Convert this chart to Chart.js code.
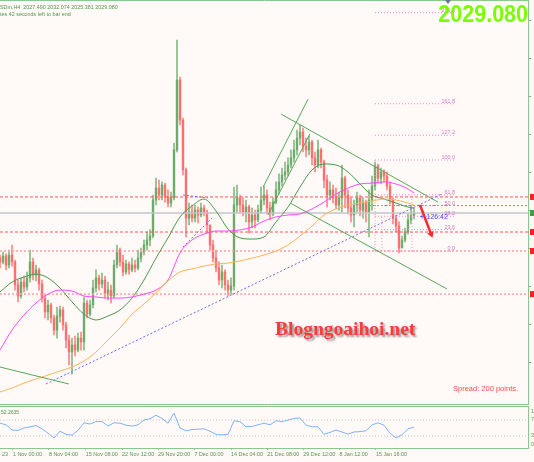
<!DOCTYPE html>
<html>
<head>
<meta charset="utf-8">
<script src="https://cdn.jsdelivr.net/npm/chart.js@4.4.1/dist/chart.umd.min.js"></script>
<style>
  html, body { margin: 0; padding: 0; background: #fff9f8; }
  #wrap { position: relative; width: 534px; height: 462px; overflow: hidden; }
  canvas { position: absolute; left: 0; }
  #main { top: 0; }
  #rsi { top: 406px; }
</style>
</head>
<body>
<div id="wrap">
  <canvas id="main" width="534" height="406"></canvas>
  <canvas id="rsi" width="534" height="56"></canvas>
</div>
<script>
// XAUUSD H4 candles, one entry per plotted bar (open = previous close)
const firstOpen = 2001.0;
const closes = [
  1998.5, 2002.2, 1996.6, 2002.8, 1998.5, 1984.1, 1977.2, 1985.9, 1982.8, 1988.5,
  1998.5, 1990.3, 1993.5, 1984.7, 1975.9, 1967.2, 1971.6, 1963.5, 1955.9, 1964.7,
  1968.5, 1959.1, 1949.7, 1942.2, 1946.6, 1943.4, 1950.9, 1948.5, 1972.8, 1965.9,
  1971.6, 1982.2, 1988.5, 1984.7, 1987.2, 1978.4, 1980.9, 1977.2, 1996.6, 2005.9,
  1998.5, 1992.2, 1997.2, 1993.5, 1996.6, 1994.7, 2000.9, 2004.7, 2009.1, 2012.2,
  2014.7, 2037.2, 2044.7, 2040.3, 2046.6, 2039.1, 2035.3, 2038.5, 2068.5, 2112.2,
  2087.2, 2056.0, 2025.9, 2029.7, 2025.9, 2030.9, 2027.8, 2032.2, 2029.7, 2021.6,
  2009.1, 2000.9, 1994.7, 1987.2, 1992.2, 1984.1, 1980.9, 1983.5, 2034.1, 2038.5,
  2034.1, 2029.7, 2032.8, 2023.5, 2027.8, 2024.7, 2030.9, 2037.2, 2040.3, 2032.2,
  2028.5, 2035.9, 2043.5, 2048.5, 2052.8, 2054.7, 2059.1, 2063.5, 2068.5, 2075.9,
  2079.7, 2070.9, 2068.5, 2073.4, 2063.5, 2059.1, 2068.5, 2060.9, 2049.7, 2040.3,
  2043.5, 2038.5, 2034.1, 2038.5, 2050.9, 2040.3, 2032.2, 2027.8, 2034.1, 2038.5,
  2030.9, 2035.9, 2029.7, 2037.2, 2045.9, 2058.5, 2050.9, 2054.7, 2052.2, 2045.9,
  2037.2, 2025.9, 2020.9, 2007.2, 2012.2, 2017.2, 2024.7, 2027.5, 2029.08
];
const highs = [
  2002.8, 2004.7, 2003.5, 2005.9, 2009.1, 1999.7, 1987.2, 1988.5, 1989.7, 1992.2,
  2005.9, 2000.9, 1996.6, 1994.7, 1987.2, 1977.8, 1974.7, 1972.8, 1965.3, 1970.3,
  1970.9, 1970.3, 1960.9, 1952.8, 1950.9, 1952.2, 1954.1, 1954.7, 1976.6, 1974.7,
  1974.7, 1987.2, 1993.5, 1990.3, 1991.6, 1989.7, 1985.9, 1984.1, 1999.7, 2009.1,
  2007.2, 2002.8, 1999.7, 1998.5, 2000.9, 1999.7, 2005.9, 2007.2, 2012.2, 2017.2,
  2018.5, 2040.3, 2050.9, 2049.7, 2048.5, 2047.8, 2043.5, 2042.2, 2072.8, 2137.2,
  2114.1, 2088.4, 2057.2, 2035.3, 2034.1, 2034.1, 2032.8, 2035.3, 2034.1, 2030.9,
  2021.6, 2012.2, 2005.9, 1998.5, 1996.6, 1993.5, 1987.2, 1988.5, 2045.3, 2046.6,
  2040.3, 2038.5, 2037.2, 2034.1, 2032.2, 2030.9, 2034.1, 2045.3, 2045.9, 2043.5,
  2035.9, 2038.5, 2048.5, 2053.5, 2057.2, 2060.9, 2063.5, 2068.5, 2074.7, 2080.9,
  2084.1, 2082.2, 2075.9, 2077.2, 2074.7, 2067.2, 2074.7, 2069.7, 2062.2, 2052.8,
  2048.5, 2046.6, 2044.7, 2042.2, 2059.1, 2052.2, 2043.5, 2038.5, 2037.2, 2042.2,
  2040.3, 2038.5, 2037.2, 2043.5, 2052.2, 2060.9, 2059.7, 2057.2, 2056.0, 2054.7,
  2048.5, 2038.5, 2027.8, 2023.5, 2014.7, 2019.7, 2028.5, 2033.5, 2032.074
];
const lows = [
  1994.7, 1997.2, 1993.5, 1994.7, 1995.9, 1980.9, 1973.5, 1975.9, 1979.7, 1980.9,
  1985.9, 1987.2, 1986.6, 1980.9, 1973.5, 1963.5, 1962.2, 1960.3, 1952.8, 1950.9,
  1960.9, 1955.9, 1944.7, 1934.1, 1928.4, 1939.7, 1942.2, 1943.4, 1943.4, 1963.5,
  1964.7, 1969.7, 1979.7, 1980.9, 1982.2, 1975.9, 1974.7, 1972.8, 1975.9, 1994.7,
  1995.9, 1989.7, 1990.9, 1990.9, 1992.2, 1992.2, 1993.5, 1998.5, 2002.8, 2005.9,
  2008.5, 2013.5, 2034.1, 2037.2, 2037.2, 2035.9, 2032.8, 2032.8, 2037.2, 2067.2,
  2084.1, 2052.8, 2014.1, 2021.6, 2023.5, 2023.5, 2022.8, 2026.6, 2027.2, 2016.6,
  2005.9, 1998.5, 1992.2, 1984.1, 1982.2, 1980.9, 1977.2, 1978.4, 1980.9, 2029.7,
  2029.1, 2027.2, 2023.5, 2016.6, 2019.7, 2019.7, 2023.5, 2029.1, 2034.1, 2028.5,
  2024.7, 2027.2, 2034.7, 2041.0, 2045.9, 2049.7, 2052.2, 2057.2, 2060.9, 2065.3,
  2071.6, 2067.2, 2064.1, 2065.3, 2059.1, 2054.7, 2057.2, 2057.2, 2044.7, 2032.8,
  2037.2, 2035.3, 2031.6, 2030.9, 2029.7, 2032.2, 2028.5, 2023.5, 2020.3, 2029.7,
  2027.2, 2025.9, 2023.5, 2014.1, 2030.9, 2043.5, 2047.8, 2047.2, 2048.5, 2043.5,
  2034.7, 2022.2, 2017.2, 2004.1, 2007.2, 2010.9, 2015.9, 2022.2, 2025.381
];

const maBars = [0, 4, 8, 12, 16, 20, 24, 28, 32, 36, 40, 44, 48, 52, 56, 60, 64, 68,
  72, 76, 80, 84, 88, 92, 96, 100, 104, 108, 112, 116, 120, 124, 128, 132, 136, 138];
const maFast = [1979.7, 1985.9, 1989.1, 1990.9, 1988.5, 1982.2, 1973.5, 1965.9, 1962.2,
  1964.7, 1968.5, 1975.9, 1987.2, 2000.9, 2013.5, 2026.6, 2033.5, 2037.8, 2030.3,
  2019.1, 2013.5, 2012.8, 2014.1, 2023.5, 2032.8, 2045.3, 2056.0, 2059.7, 2059.1,
  2054.7, 2047.2, 2040.3, 2037.8, 2035.3, 2032.8, 2032.2];
const maMid = [1943.4, 1955.9, 1965.3, 1972.8, 1978.4, 1980.9, 1980.3, 1977.2, 1976.6,
  1975.9, 1975.9, 1976.6, 1978.4, 1980.9, 1987.2, 2004.1, 2012.2, 2015.9, 2017.8,
  2017.8, 2018.5, 2020.3, 2024.1, 2026.6, 2027.8, 2028.5, 2031.6, 2035.9, 2040.9,
  2044.7, 2047.2, 2047.8, 2048.5, 2047.2, 2044.1, 2041.6];
const maSlow = [1917.2, 1919.7, 1922.8, 1925.3, 1927.8, 1930.3, 1932.8, 1936.6, 1942.2,
  1949.7, 1957.2, 1965.9, 1972.2, 1979.1, 1986.6, 1992.2, 1994.1, 1995.9, 1997.2,
  1997.8, 1999.1, 2000.9, 2002.8, 2005.3, 2009.1, 2014.7, 2020.9, 2027.8, 2031.6,
  2034.1, 2035.3, 2036.6, 2037.8, 2037.2, 2035.3, 2034.1];

// RSI(14), one reading every second bar
const rsiStep = 2;
const rsiValues = [
  62, 58, 45, 44, 50, 53, 56, 48, 37, 25,
  42, 34, 32, 44, 63, 60, 66, 66, 55, 63,
  62, 57, 55, 58, 70, 73, 82, 74, 62, 87,
  50, 43, 46, 47, 48, 42, 34, 33, 34, 68,
  66, 53, 54, 58, 62, 58, 68, 66, 70, 74,
  75, 57, 53, 53, 34, 39, 45, 40, 35, 40,
  41, 43, 58, 63, 57, 37, 25, 33, 48, 52.2635
];

// time axis
const timeTickBars = [4.3, 16.3, 28.6, 40.7, 52.7, 64.8, 77.0, 89.1, 101.1, 113.2, 125.3];
const timeLabels = ['1 Nov 00:00', '8 Nov 04:00', '15 Nov 08:00', '22 Nov 12:00', '29 Nov 20:00',
  '7 Dec 00:00', '14 Dec 04:00', '21 Dec 08:00', '29 Dec 12:00', '8 Jan 12:00', '15 Jan 16:00'];

// drawn objects (bar, price)
const resistanceLevels = [2039.1, 2017.2];
const zoneLevels = [2005.3, 1978.4];
const fibLow = 2005.3, fibHigh = 2062.2;
const fibLevels = [261.8, 161.8, 127.2, 100.0, 61.8, 50.0, 38.2, 23.6, 0.0];
const fibStartBar = 125, fibEndBar = 151.7;
const fibVerticals = [[125, 100.0], [127.3, 38.2], [137.3, 61.8]];
const greenTrends = [
  [[0, 1932.8], [23, 1922.2]],
  [[87.7, 2045.3], [102.7, 2100.3]],
  [[89.3, 2027.8], [103.3, 2078.5]],
  [[93.7, 2090.9], [146, 2035.9]],
  [[96.7, 2035.3], [149, 1981.6]]
];
const blueTrends = [
  [[15.3, 1922.2], [147.3, 2041.0]],
  [[61, 2040.3], [69.3, 2038.5]],
  [[61, 2007.8], [70.7, 2025.9]]
];
const arrowPath = [[140, 2034.1], [143.7, 2015.9]];

const BG = '#fff9f8';
const FONT = '"Liberation Sans", Arial, sans-serif';
const X_MAX = 176;

const opens = [firstOpen].concat(closes.slice(0, -1));
const bid = closes[closes.length - 1];
const fibPrice = l => fibLow + (fibHigh - fibLow) * l / 100;
const candleColor = i => closes[i] >= opens[i] ? 'rgba(88,162,88,0.72)' : 'rgba(255,96,96,0.75)';

function line(pts, color, width, dash, order, extra) {
  return Object.assign({
    type: 'line',
    data: pts.map(p => ({x: p[0], y: p[1]})),
    borderColor: color, borderWidth: width, borderDash: dash,
    pointRadius: 0, tension: 0, order: order
  }, extra || {});
}

const datasets = [];
resistanceLevels.forEach(p => datasets.push(line([[0, p], [X_MAX, p]], '#ff5555', 1, [3, 2], 4)));
zoneLevels.forEach(p => datasets.push(line([[0, p], [X_MAX, p]], '#ffa2a2', 1.5, [2, 2], 4)));
datasets.push(line([[0, bid], [X_MAX, bid]], '#c4c4cc', 1.5, [], 4));
fibLevels.forEach(l => datasets.push(line([[fibStartBar, fibPrice(l)], [fibEndBar, fibPrice(l)]], '#f08ad0', 1, [1, 2], 4)));
datasets.push(line([[123, fibPrice(50)], [X_MAX, fibPrice(50)]], '#ff6262', 1, [2, 2], 4));
fibVerticals.forEach(v => datasets.push(line([[v[0], fibLow], [v[0], fibPrice(v[1])]], '#f59ab0', 1, [1, 2], 4)));

datasets.push({
  type: 'bar', order: 6, grouped: false, barThickness: 1,
  data: closes.map((c, i) => ({x: i, y: [lows[i], highs[i]]})),
  backgroundColor: ctx => candleColor(ctx.dataIndex)
});
datasets.push({
  type: 'bar', order: 5, grouped: false, barThickness: 1.8,
  data: closes.map((c, i) => ({x: i, y: [opens[i], c]})),
  backgroundColor: ctx => candleColor(ctx.dataIndex)
});

const maStyle = {tension: 0.4, cubicInterpolationMode: 'monotone'};
datasets.push(line(maBars.map((b, k) => [b, maSlow[k]]), '#ffb45e', 1, [], 3, maStyle));
datasets.push(line(maBars.map((b, k) => [b, maMid[k]]), '#ff4cff', 1, [], 3, maStyle));
datasets.push(line(maBars.map((b, k) => [b, maFast[k]]), '#4f994f', 1, [], 3, maStyle));

greenTrends.forEach(t => datasets.push(line(t, '#5aa75a', 1, [], 2)));
blueTrends.forEach(t => datasets.push(line(t, '#6c6cff', 1, [2, 2], 2)));
datasets.push(line(arrowPath, '#ff2a2a', 2.5, [], 0, {
  pointRadius: [0, 4], pointStyle: 'triangle', rotation: 159,
  pointBackgroundColor: '#ff2a2a', pointBorderWidth: 0
}));

const mainDecor = {
  id: 'mainDecor',
  beforeDraw(chart) {
    const c = chart.ctx;
    c.save(); c.fillStyle = BG; c.fillRect(0, 0, chart.width, chart.height); c.restore();
  },
  afterDraw(chart) {
    const c = chart.ctx, xs = chart.scales.x, ys = chart.scales.y;
    c.save();
    // panel frame
    c.strokeStyle = '#8cc88c'; c.lineWidth = 1;
    c.beginPath();
    c.moveTo(0, 0.5); c.lineTo(529, 0.5);
    c.moveTo(528.5, 0); c.lineTo(528.5, 405);
    c.moveTo(0, 404.5); c.lineTo(529, 404.5);
    c.stroke();
    // right price scale stub
    c.strokeStyle = '#9a9a9a';
    c.beginPath();
    for (let y = 20; y < 400; y += 38) { c.moveTo(529, y + 0.5); c.lineTo(531, y + 0.5); }
    c.stroke();
    c.fillStyle = '#ff2020';
    resistanceLevels.concat(zoneLevels).forEach(p => c.fillRect(530, ys.getPixelForValue(p) - 3, 8, 6));
    c.fillStyle = '#3f9f3f';
    c.fillRect(530, ys.getPixelForValue(bid) - 3, 8, 6);
    // shift marker
    c.fillStyle = '#66788a';
    c.beginPath(); c.moveTo(445, 0); c.lineTo(451, 0); c.lineTo(448, 4); c.closePath(); c.fill();
    // fibonacci labels
    c.font = '5.4px ' + FONT; c.fillStyle = '#d27cbe'; c.textAlign = 'right'; c.textBaseline = 'alphabetic';
    fibLevels.forEach(l => c.fillText(l.toFixed(1), xs.getPixelForValue(fibEndBar), ys.getPixelForValue(fibPrice(l)) - 1));
    // trendline angle label
    c.strokeStyle = '#6c6cff'; c.lineWidth = 1;
    c.beginPath(); c.moveTo(420, 216.5); c.lineTo(424, 216.5); c.moveTo(422, 214.5); c.lineTo(422, 218.5); c.stroke();
    c.font = '7px ' + FONT; c.fillStyle = '#4a4aff'; c.textAlign = 'left'; c.textBaseline = 'middle';
    c.fillText('126:42', 426.5, 217);
    // header
    c.font = '5.4px ' + FONT; c.fillStyle = '#4c9a4c'; c.textBaseline = 'alphabetic';
    c.fillText('SDm,H4  2027.490 2032.074 2025.381 2029.080', 0, 8.5);
    c.fillText('tes 42 seconds left to bar end', 0, 15.5);
    // big price
    c.save();
    c.translate(528, 21.8); c.scale(1, 1.08);
    c.font = 'bold 21.5px ' + FONT; c.fillStyle = '#7cfc00'; c.textAlign = 'right';
    c.fillText('2029.080', 0, 0);
    c.restore();
    // watermark
    c.save();
    c.font = 'bold 19.5px "Liberation Serif", "Times New Roman", serif';
    c.fillStyle = '#ff3a3a'; c.textAlign = 'left';
    c.shadowColor = 'rgba(70,70,70,0.55)'; c.shadowOffsetX = 2; c.shadowOffsetY = 2; c.shadowBlur = 2;
    c.fillText('Blogngoaihoi.net', 275, 335);
    c.restore();
    // spread
    c.font = '7.5px ' + FONT; c.fillStyle = '#ff4c4c'; c.textAlign = 'left'; c.textBaseline = 'middle';
    c.fillText('Spread: 200 points.', 453, 389);
    c.restore();
  }
};

new Chart(document.getElementById('main'), {
  type: 'bar',
  data: {datasets: datasets},
  options: {
    responsive: false, animation: false, events: [],
    layout: {autoPadding: false, padding: {top: 0, right: 6, bottom: 2, left: 0}},
    plugins: {legend: {display: false}, tooltip: {enabled: false}},
    scales: {
      x: {type: 'linear', min: 0, max: X_MAX, display: false, offset: false, grid: {offset: false}},
      y: {type: 'linear', min: 1909.7, max: 2162.2, display: false, beginAtZero: false}
    }
  },
  plugins: [mainDecor]
});

const rsiDecor = {
  id: 'rsiDecor',
  beforeDraw(chart) {
    const c = chart.ctx;
    c.save(); c.fillStyle = BG; c.fillRect(0, 0, chart.width, chart.height); c.restore();
  },
  afterDraw(chart) {
    const c = chart.ctx, ys = chart.scales.y;
    c.save();
    c.strokeStyle = '#8cc88c'; c.lineWidth = 1;
    c.beginPath();
    c.moveTo(0, 0.5); c.lineTo(529, 0.5);
    c.moveTo(0, 42.5); c.lineTo(529, 42.5);
    c.moveTo(528.5, 0); c.lineTo(528.5, 43);
    c.stroke();
    c.font = '5.4px ' + FONT; c.fillStyle = '#4c9a4c'; c.textBaseline = 'middle'; c.textAlign = 'left';
    [[100, 6], [70, ys.getPixelForValue(70)], [30, ys.getPixelForValue(30)], [0, 39]]
      .forEach(t => c.fillText(String(t[0]), 531, t[1]));
    c.font = '5px ' + FONT; c.textBaseline = 'alphabetic';
    c.fillText(rsiValues[rsiValues.length - 1].toFixed(4), 1, 8);
    c.font = '5.4px ' + FONT; c.textAlign = 'right'; c.textBaseline = 'middle';
    c.fillText('23', 8, 48.2);
    c.restore();
  }
};

new Chart(document.getElementById('rsi'), {
  type: 'line',
  data: {
    datasets: [
      {data: rsiValues.map((v, k) => ({x: k * rsiStep, y: v})), borderColor: '#7ab6ff', borderWidth: 1, pointRadius: 0, tension: 0},
      {data: [{x: 0, y: 70}, {x: X_MAX, y: 70}], borderColor: '#c4c4c4', borderWidth: 1, borderDash: [1, 2], pointRadius: 0},
      {data: [{x: 0, y: 30}, {x: X_MAX, y: 30}], borderColor: '#c4c4c4', borderWidth: 1, borderDash: [1, 2], pointRadius: 0}
    ]
  },
  options: {
    responsive: false, animation: false, events: [],
    layout: {autoPadding: false, padding: {top: 2, right: 6, bottom: 0, left: 0}},
    plugins: {legend: {display: false}, tooltip: {enabled: false}},
    scales: {
      x: {
        type: 'linear', min: 0, max: X_MAX, offset: false,
        afterBuildTicks: ax => { ax.ticks = timeTickBars.map(v => ({value: v})); },
        afterFit: ax => { ax.height = 14; },
        ticks: {
          autoSkip: false, maxRotation: 0, align: 'start', padding: 1,
          color: '#4c9a4c', font: {family: FONT, size: 5.4},
          callback: (v, i) => timeLabels[i]
        },
        grid: {drawOnChartArea: false, drawTicks: true, tickLength: 2, color: '#8cc88c'},
        border: {display: false}
      },
      y: {display: false, min: 0, max: 100}
    }
  },
  plugins: [rsiDecor]
});
</script>
</body>
</html>
